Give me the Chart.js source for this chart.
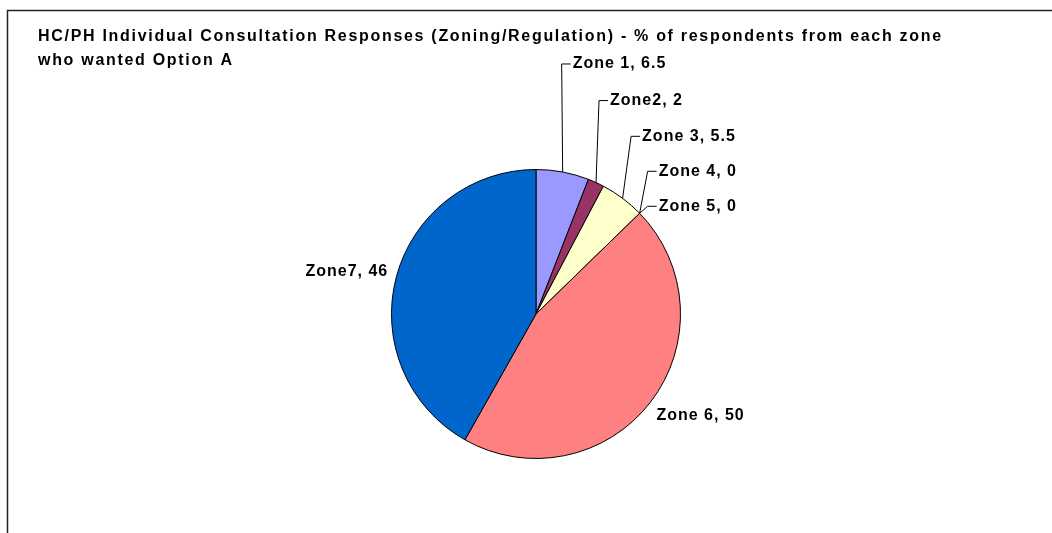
<!DOCTYPE html>
<html><head><meta charset="utf-8">
<script src="https://cdn.jsdelivr.net/npm/chart.js@4.4.0/dist/chart.umd.min.js"></script>
<style>html,body{margin:0;padding:0;background:#fff;overflow:hidden}</style>
</head><body>
<canvas id="c" width="1052" height="533" style="display:block;width:1052px;height:533px"></canvas>
<script>
const categories = ['Zone 1', 'Zone2', 'Zone 3', 'Zone 4', 'Zone 5', 'Zone 6', 'Zone7'];
const values = [6.5, 2, 5.5, 0, 0, 50, 46];
const colors = ['#9999FF', '#993366', '#FFFFCC', '#CCFFFF', '#660066', '#FF8080', '#0066CC'];
const titleLines = [
  'HC/PH Individual Consultation Responses (Zoning/Regulation) - % of respondents from each zone',
  'who wanted Option A'
];

// label placement relative to each slice's outer mid-point (style only)
const labelPlacement = [
  {leader: true, ex: -1, ey: -108},
  {leader: true, ex: 3, ey: -82},
  {leader: true, ex: 8.5, ey: -62},
  {leader: true, ex: 8, ey: -42},
  {leader: true, ex: 8, ey: -7},
  {leader: false, dx: 6, dy: 13.5, align: 'left'},
  {leader: false, dx: -8, dy: -6, align: 'right'}
];

const FONT = '"Liberation Sans", Arial, sans-serif';

const decor = {
  id: 'decor',
  beforeDraw(chart) {
    const ctx = chart.ctx;
    ctx.save();
    ctx.fillStyle = '#fff';
    ctx.fillRect(0, 0, chart.width, chart.height);
    ctx.restore();
  },
  afterDraw(chart) {
    const ctx = chart.ctx;
    ctx.save();
    // frame
    ctx.strokeStyle = '#222';
    ctx.lineWidth = 1.5;
    ctx.beginPath();
    ctx.moveTo(7.5, chart.height + 5);
    ctx.lineTo(7.5, 10.5);
    ctx.lineTo(chart.width + 5, 10.5);
    ctx.stroke();

    // title
    ctx.fillStyle = '#000';
    ctx.font = 'bold 16px ' + FONT;
    ctx.letterSpacing = '1.7px';
    ctx.textBaseline = 'middle';
    ctx.textAlign = 'left';
    ctx.fillText(titleLines[0], 38, 37);
    ctx.fillText(titleLines[1], 38, 61);

    // data labels
    const meta = chart.getDatasetMeta(0);
    ctx.font = 'bold 16px ' + FONT;
    ctx.letterSpacing = '1px';
    ctx.strokeStyle = '#000';
    ctx.lineWidth = 1;
    meta.data.forEach((arc, i) => {
      const p = arc.getProps(['x', 'y', 'startAngle', 'endAngle', 'outerRadius'], true);
      const mid = (p.startAngle + p.endAngle) / 2;
      const ax = p.x + Math.cos(mid) * p.outerRadius;
      const ay = p.y + Math.sin(mid) * p.outerRadius;
      const lp = labelPlacement[i];
      const text = categories[i] + ', ' + values[i];
      if (lp.leader) {
        const exx = ax + lp.ex, eyy = ay + lp.ey;
        ctx.beginPath();
        ctx.moveTo(ax, ay);
        ctx.lineTo(exx, eyy);
        ctx.lineTo(exx + 9, eyy);
        ctx.stroke();
        ctx.textAlign = 'left';
        ctx.fillText(text, exx + 11, eyy);
      } else {
        ctx.textAlign = lp.align;
        ctx.fillText(text, ax + lp.dx, ay + lp.dy);
      }
    });
    ctx.restore();
  }
};

new Chart(document.getElementById('c'), {
  type: 'pie',
  data: {
    labels: categories,
    datasets: [{
      data: values,
      backgroundColor: colors,
      borderColor: '#000',
      borderWidth: 1
    }]
  },
  options: {
    responsive: false,
    devicePixelRatio: 1,
    animation: false,
    layout: {padding: {top: 169, bottom: 74, left: 20, right: 0}},
    plugins: {legend: {display: false}, title: {display: false}, tooltip: {enabled: false}}
  },
  plugins: [decor]
});
</script>
</body></html>
